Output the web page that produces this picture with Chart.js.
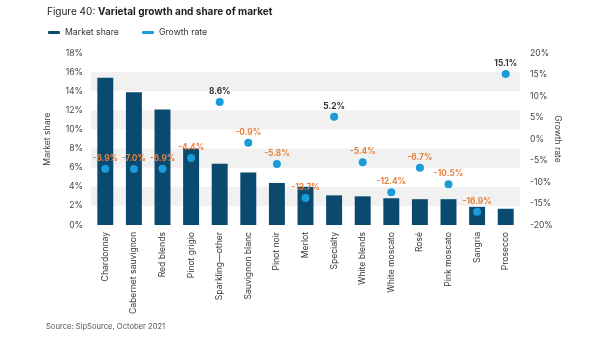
<!DOCTYPE html>
<html><head><meta charset="utf-8">
<script src="https://cdn.jsdelivr.net/npm/chart.js@4"></script>
<style>
html,body{margin:0;padding:0;background:#fff;width:600px;height:338px;overflow:hidden;font-family:Inter,"Noto Sans",sans-serif;}
#wrap{position:absolute;left:0;top:0;width:600px;height:338px;}
.t{position:absolute;white-space:nowrap;color:#222;}
#title{left:47px;top:5px;font-size:10px;}
#title b{font-weight:700;}
.leg{position:absolute;top:27px;font-size:8.7px;color:#333;display:flex;align-items:center;}
.sw{display:inline-block;width:12px;height:3px;margin-right:5px;border-radius:1px;}
#src{left:46px;top:322px;font-size:7.6px;color:#555;}
</style></head>
<body>
<div id="wrap"><canvas id="c" width="600" height="338"></canvas></div>
<div class="t" id="title">Figure 40: <b>Varietal growth and share of market</b></div>
<div class="leg" style="left:48px"><span class="sw" style="background:#0b4a6f"></span>Market share</div>
<div class="leg" style="left:142px"><span class="sw" style="background:#1b9bd7"></span>Growth rate</div>
<div class="t" id="src">Source: SipSource, October 2021</div>
<script>
const categories = ["Chardonnay","Cabernet sauvignon","Red blends","Pinot grigio","Sparkling\u2014other","Sauvignon blanc","Pinot noir","Merlot","Specialty","White blends","White moscato","Ros\u00e9","Pink moscato","Sangria","Prosecco"];
const marketShare = [15.4,13.9,12.1,8.0,6.4,5.5,4.4,4.0,3.1,3.0,2.8,2.7,2.7,1.9,1.7];
const growthRate = [-6.9,-7.0,-6.9,-4.4,8.6,-0.9,-5.8,-13.7,5.2,-5.4,-12.4,-6.7,-10.5,-16.9,15.1];

const bandPlugin = {
  id:'bands',
  beforeDatasetsDraw(chart){
    const {ctx, chartArea:a, scales:{y}} = chart;
    ctx.save();
    ctx.fillStyle = '#f1f1f1';
    const bands = [[14,16],[10,12],[6,8],[2,4]];
    bands.forEach(([lo,hi])=>{
      const y1 = y.getPixelForValue(hi), y2 = y.getPixelForValue(lo);
      ctx.fillRect(a.left, y1, a.right-a.left, y2-y1);
    });
    ctx.restore();
  }
};
const labelPlugin = {
  id:'ptlabels',
  afterDatasetsDraw(chart){
    const {ctx} = chart;
    const meta = chart.getDatasetMeta(1);
    ctx.save();
    ctx.font = 'bold 8.3px Inter, "Noto Sans", sans-serif';
    ctx.textAlign = 'center';
    ctx.textBaseline = 'middle';
    meta.data.forEach((pt,i)=>{
      const v = growthRate[i];
      ctx.fillStyle = v < 0 ? '#e8803f' : '#333333';
      ctx.fillText(v.toFixed(1)+'%', pt.x, pt.y-10.5);
    });
    ctx.restore();
  }
};
const tickFont = {family:'Inter, "Noto Sans", sans-serif', size:8.6};
new Chart(document.getElementById('c'), {
  data:{
    labels:categories,
    datasets:[
      {type:'bar', label:'Market share', data:marketShare, backgroundColor:'#0b4a6f', yAxisID:'y', barPercentage:0.62, categoryPercentage:0.9, order:2},
      {type:'line', label:'Growth rate', data:growthRate, yAxisID:'y2', showLine:false, pointRadius:4, pointHoverRadius:4, pointBackgroundColor:'#1b9bd7', pointBorderWidth:0, borderColor:'#1b9bd7', order:1}
    ]
  },
  options:{
    responsive:false, animation:false,
    layout:{padding:{top:53, left:40, right:35, bottom:0}},
    plugins:{legend:{display:false}, tooltip:{enabled:false}},
    scales:{
      x:{
        grid:{display:false, drawTicks:false}, border:{display:false},
        ticks:{minRotation:90, maxRotation:90, autoSkip:false, color:'#333', font:tickFont, padding:7},
        afterFit(s){ s.height = 113; }
      },
      y:{
        position:'left', min:0, max:18,
        grid:{display:false, drawTicks:false}, border:{display:false},
        ticks:{stepSize:2, color:'#444', font:tickFont, padding:8, callback:v=>v+'%'},
        title:{display:true, text:'Market share', color:'#444', font:tickFont, padding:2},
        afterFit(s){ s.width = 51; }
      },
      y2:{
        position:'right', min:-20, max:20,
        grid:{display:false, drawTicks:false}, border:{display:false},
        ticks:{stepSize:5, color:'#444', font:tickFont, padding:10, callback:v=>v+'%'},
        title:{display:true, text:'Growth rate', color:'#444', font:tickFont, padding:2},
        afterFit(s){ s.width = 45; }
      }
    }
  },
  plugins:[bandPlugin, labelPlugin]
});
</script>
</body></html>
